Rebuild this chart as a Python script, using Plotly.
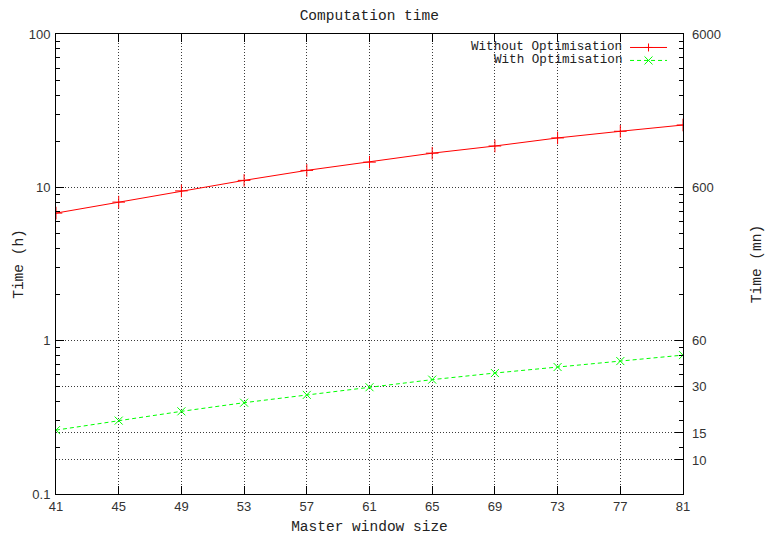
import numpy as np
import plotly.graph_objects as go

window_size = [41, 45, 49, 53, 57, 61, 65, 69, 73, 77, 81]
without_opt = [6.79, 8.01, 9.48, 11.1, 12.9, 14.6, 16.7, 18.6, 21.0, 23.2, 25.5]
with_opt = [0.261, 0.301, 0.346, 0.394, 0.443, 0.497, 0.557, 0.615, 0.673, 0.736, 0.805]

y_ticks_h = [0.1, 1, 10, 100]
y_ticks_h_text = ["0.1", "1", "10", "100"]
y2_ticks_mn = [10, 15, 30, 60, 600, 6000]
y2_ticks_mn_text = ["10", "15", "30", "60", "600", "6000"]

minor_h = [m * d for d in (0.1, 1, 10) for m in range(2, 10)]
minor_mn = [v * 60 for v in minor_h]

MONO = "Liberation Mono"
SANS = "Liberation Sans"
GRID = "#3a3a3a"
GDASH = "1px,2px"
GREEN_DASH = "4px,3px"

fig = go.Figure()
fig.add_trace(go.Scatter(
    x=window_size, y=without_opt, mode="lines+markers", name="Without Optimisation",
    line=dict(color="#ff0000", width=1),
    marker=dict(symbol="cross-thin", size=9, line=dict(color="#ff0000", width=1)),
    showlegend=False))
fig.add_trace(go.Scatter(
    x=window_size, y=with_opt, mode="lines+markers", name="With Optimisation",
    line=dict(color="#00ff00", width=1, dash=GREEN_DASH),
    marker=dict(symbol="x-thin", size=8, line=dict(color="#00ff00", width=1)),
    showlegend=False))
# invisible trace to activate y2
fig.add_trace(go.Scatter(x=[window_size[0]], y=[y2_ticks_mn[-1]], yaxis="y2",
                         mode="markers", marker=dict(opacity=0), showlegend=False,
                         hoverinfo="skip"))

L, R, T, B = 55.5, 83, 33.5, 41.5
W, H = 766, 536
PW, PH = W - L - R, H - T - B

fig.update_layout(
    width=W, height=H,
    margin=dict(l=L, r=R, t=T, b=B, autoexpand=False),
    paper_bgcolor="white", plot_bgcolor="white",
    title=dict(text="Computation time", x=(L + PW / 2) / W, xanchor="center",
               y=1 - 15 / H, yanchor="middle",
               font=dict(family=MONO, size=14.5, color="#222")),
    xaxis=dict(
        range=[41, 81], tickvals=window_size, ticktext=[str(v) for v in window_size],
        ticks="inside", ticklen=8, tickcolor="black", tickwidth=1,
        showline=True, linecolor="black", linewidth=1, mirror="ticks",
        showgrid=True, gridcolor=GRID, griddash=GDASH, gridwidth=1,
        zeroline=False, automargin=False,
        tickfont=dict(family=SANS, size=13, color="#333"),
        title=dict(text="Master window size", standoff=8,
                   font=dict(family=MONO, size=14.5, color="#222")),
    ),
    yaxis=dict(
        type="log", range=[-1, 2], tickvals=y_ticks_h, ticktext=y_ticks_h_text,
        ticks="inside", ticklen=8, tickcolor="black", tickwidth=1,
        showline=True, linecolor="black", linewidth=1, mirror=True,
        showgrid=True, gridcolor=GRID, griddash=GDASH, gridwidth=1,
        zeroline=False, automargin=False,
        minor=dict(tickvals=minor_h, ticks="inside", ticklen=4, tickcolor="black",
                   showgrid=False),
        tickfont=dict(family=SANS, size=13, color="#333"),
        ticklabelstandoff=2,
        title=dict(text="Time (h)", standoff=1,
                   font=dict(family=MONO, size=14.5, color="#222")),
    ),
    yaxis2=dict(
        type="log", overlaying="y", side="right",
        range=[np.log10(6), np.log10(6000)],
        tickvals=y2_ticks_mn, ticktext=y2_ticks_mn_text,
        ticks="inside", ticklen=8, tickcolor="black", tickwidth=1,
        showline=False,
        showgrid=True, gridcolor=GRID, griddash=GDASH, gridwidth=1,
        zeroline=False, automargin=False,
        minor=dict(tickvals=minor_mn, ticks="inside", ticklen=4, tickcolor="black",
                   showgrid=False),
        tickfont=dict(family=SANS, size=13, color="#333"),
        ticklabelstandoff=8,
        title=dict(text="Time (mn)", standoff=30,
                   font=dict(family=MONO, size=14.5, color="#222")),
    ),
)

# Gnuplot-style key: text on the left, sample on the right (plot-area paper coords)
def px(x):
    return (x - L) / PW

def py(y):
    return 1 - (y - T) / PH

legend_items = [
    ("Without Optimisation", "#ff0000", "solid", "plus", 47),
    ("With Optimisation", "#00ff00", GREEN_DASH, "x", 60),
]
for text, color, dash, sym, yy in legend_items:
    fig.add_annotation(xref="paper", yref="paper", x=px(624), y=py(yy),
                       xanchor="right", yanchor="middle", showarrow=False,
                       text=text, font=dict(family=MONO, size=12.6, color="#222"))
    fig.add_shape(type="line", xref="paper", yref="paper",
                  x0=px(630), x1=px(667), y0=py(yy), y1=py(yy),
                  line=dict(color=color, width=1, dash=dash))
    cx, cy, s = 648.5, yy, 4
    if sym == "plus":
        segs = [(cx - s, cy, cx + s, cy), (cx, cy - s, cx, cy + s)]
    else:
        segs = [(cx - s, cy - s, cx + s, cy + s), (cx - s, cy + s, cx + s, cy - s)]
    for x0, y0, x1, y1 in segs:
        fig.add_shape(type="line", xref="paper", yref="paper",
                      x0=px(x0), x1=px(x1), y0=py(y0), y1=py(y1),
                      line=dict(color=color, width=1))

fig.write_html("out.html")
